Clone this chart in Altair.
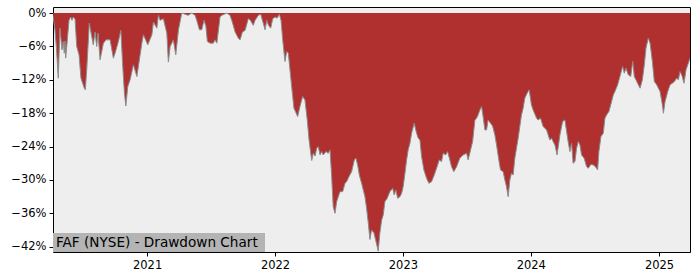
import altair as alt
import pandas as pd

# Decimal-year positions
years = [
    2020.266, 2020.281, 2020.293, 2020.307, 2020.320, 2020.336, 2020.346, 2020.354, 2020.359, 2020.365,
    2020.391, 2020.404, 2020.414, 2020.424, 2020.438, 2020.451, 2020.469, 2020.484, 2020.510, 2020.518,
    2020.529, 2020.549, 2020.580, 2020.594, 2020.607, 2020.617, 2020.633, 2020.659, 2020.680, 2020.711,
    2020.737, 2020.750, 2020.776, 2020.795, 2020.810, 2020.823, 2020.834, 2020.849, 2020.867, 2020.893,
    2020.920, 2020.959, 2020.971, 2021.005, 2021.037, 2021.049, 2021.076, 2021.088, 2021.102, 2021.127,
    2021.154, 2021.166, 2021.180, 2021.205, 2021.224, 2021.245, 2021.271, 2021.297, 2021.320, 2021.349,
    2021.375, 2021.388, 2021.409, 2021.427, 2021.445, 2021.459, 2021.471, 2021.492, 2021.518, 2021.531,
    2021.545, 2021.570, 2021.584, 2021.623, 2021.648, 2021.666, 2021.688, 2021.713, 2021.727, 2021.745,
    2021.766, 2021.791, 2021.805, 2021.830, 2021.844, 2021.870, 2021.888, 2021.909, 2021.922, 2021.935,
    2021.949, 2021.966, 2021.982, 2022.000, 2022.016, 2022.034, 2022.047, 2022.060, 2022.078, 2022.091,
    2022.104, 2022.117, 2022.130, 2022.148, 2022.177, 2022.195, 2022.216, 2022.234, 2022.252, 2022.266,
    2022.281, 2022.287, 2022.299, 2022.313, 2022.326, 2022.338, 2022.352, 2022.365, 2022.377, 2022.398,
    2022.416, 2022.430, 2022.443, 2022.455, 2022.469, 2022.482, 2022.508, 2022.529, 2022.547, 2022.560,
    2022.578, 2022.599, 2022.620, 2022.633, 2022.646, 2022.659, 2022.677, 2022.690, 2022.703, 2022.716,
    2022.729, 2022.742, 2022.755, 2022.773, 2022.789, 2022.807, 2022.820, 2022.834, 2022.846, 2022.859,
    2022.877, 2022.898, 2022.920, 2022.932, 2022.945, 2022.959, 2022.977, 2022.990, 2023.002, 2023.016,
    2023.029, 2023.041, 2023.055, 2023.068, 2023.088, 2023.107, 2023.120, 2023.133, 2023.146, 2023.164,
    2023.185, 2023.203, 2023.224, 2023.245, 2023.263, 2023.284, 2023.302, 2023.315, 2023.334, 2023.349,
    2023.367, 2023.380, 2023.398, 2023.420, 2023.445, 2023.471, 2023.498, 2023.510, 2023.529, 2023.545,
    2023.563, 2023.576, 2023.588, 2023.602, 2023.615, 2023.627, 2023.641, 2023.654, 2023.666, 2023.685,
    2023.701, 2023.719, 2023.732, 2023.752, 2023.763, 2023.784, 2023.797, 2023.810, 2023.823, 2023.836,
    2023.849, 2023.862, 2023.875, 2023.901, 2023.927, 2023.940, 2023.953, 2023.971, 2023.987, 2024.005,
    2024.018, 2024.045, 2024.057, 2024.076, 2024.096, 2024.123, 2024.148, 2024.162, 2024.174, 2024.188,
    2024.205, 2024.213, 2024.227, 2024.248, 2024.266, 2024.279, 2024.291, 2024.305, 2024.318, 2024.330,
    2024.344, 2024.357, 2024.370, 2024.383, 2024.396, 2024.416, 2024.435, 2024.448, 2024.469, 2024.487,
    2024.504, 2024.521, 2024.531, 2024.547, 2024.565, 2024.578, 2024.591, 2024.609, 2024.630, 2024.643,
    2024.656, 2024.677, 2024.695, 2024.716, 2024.729, 2024.742, 2024.760, 2024.779, 2024.795, 2024.807,
    2024.826, 2024.852, 2024.870, 2024.885, 2024.898, 2024.916, 2024.930, 2024.948, 2024.963, 2024.982,
    2025.008, 2025.026, 2025.034, 2025.047, 2025.068, 2025.086, 2025.104, 2025.120, 2025.138, 2025.151,
    2025.164, 2025.180, 2025.195, 2025.211, 2025.229, 2025.242,
]

# Drawdown in percent
drawdown = [
    -0.5, -3.0, -6.3, -11.7, -2.7, -6.6, -5.1, -7.2, -5.0, -8.1,
    -1.3, -0.7, -1.3, -0.7, -1.1, -6.0, -7.5, -11.7, -13.5, -13.8,
    -10.2, -1.8, -5.7, -3.4, -6.0, -3.6, -8.4, -5.4, -4.8, -4.8,
    -8.1, -7.2, -5.1, -3.1, -9.6, -14.4, -16.7, -13.2, -12.0, -9.3,
    -11.4, -5.4, -3.9, -5.7, -3.9, -1.6, -2.7, -0.4, -1.3, -1.0,
    -3.6, -8.8, -6.0, -4.8, -7.5, -3.0, 0.0, -0.2, -0.4, 0.0,
    -0.4, -1.3, -3.0, -3.0, -1.3, -2.3, -5.1, -5.4, -5.4, -4.8,
    -5.4, -0.7, -0.4, 0.0, -0.4, -1.6, -3.4, -4.5, -4.8, -3.4,
    -3.1, -1.0, -1.2, -2.2, -1.3, -0.4, -0.2, -1.9, -3.0, -1.3,
    -2.2, -2.7, -1.0, -0.7, -0.9, -0.2, -1.3, -4.8, -8.7, -6.9,
    -7.2, -10.2, -13.2, -17.1, -18.6, -16.8, -15.0, -15.6, -19.2, -22.8,
    -25.5, -26.5, -25.2, -25.7, -24.3, -24.0, -25.5, -24.9, -25.5, -24.9,
    -25.2, -24.6, -29.4, -34.8, -36.0, -33.9, -32.1, -32.1, -30.6, -30.3,
    -29.4, -28.5, -26.4, -26.1, -27.3, -29.1, -30.6, -31.8, -33.0, -35.1,
    -37.7, -40.7, -39.0, -39.5, -41.0, -42.8, -39.5, -37.2, -36.3, -33.9,
    -33.3, -32.1, -31.5, -32.7, -31.8, -33.3, -33.0, -32.4, -31.2, -28.8,
    -26.4, -24.6, -23.4, -21.6, -19.8, -21.6, -22.5, -22.8, -25.8, -28.2,
    -29.7, -30.6, -30.3, -29.1, -27.9, -26.4, -26.7, -25.2, -25.5, -24.9,
    -26.4, -27.6, -28.5, -27.6, -26.1, -25.5, -25.2, -26.4, -24.6, -23.1,
    -19.2, -18.9, -18.3, -17.4, -16.8, -18.6, -21.0, -21.0, -19.2, -19.8,
    -20.3, -21.9, -23.7, -26.7, -28.2, -28.5, -30.0, -31.2, -33.0, -30.0,
    -28.8, -29.1, -26.1, -22.5, -18.3, -17.1, -15.3, -14.4, -13.8, -16.5,
    -17.4, -18.9, -19.2, -18.9, -20.4, -21.0, -22.8, -22.5, -23.1, -23.7,
    -25.5, -24.2, -21.9, -19.5, -19.2, -21.3, -23.1, -24.9, -23.4, -27.0,
    -26.7, -24.3, -23.1, -23.7, -25.5, -26.1, -27.6, -27.9, -27.2, -27.3,
    -27.6, -28.2, -24.9, -22.2, -21.6, -18.9, -18.3, -17.7, -15.9, -14.7,
    -14.1, -12.9, -11.4, -9.6, -10.8, -9.9, -11.1, -11.4, -8.7, -11.4,
    -12.3, -13.5, -12.0, -9.3, -6.3, -4.5, -5.4, -8.7, -12.3, -12.9,
    -14.1, -16.5, -18.0, -15.9, -14.1, -12.9, -12.6, -12.3, -11.7, -12.0,
    -10.5, -11.3, -12.6, -10.2, -9.0, -8.1,
]

y_ticks = [-42, -36, -30, -24, -18, -12, -6, 0]
x_tick_years = [2021, 2022, 2023, 2024, 2025]
title_text = "FAF (NYSE) - Drawdown Chart"


def dec_to_date(v):
    yr = int(v)
    frac = v - yr
    start = pd.Timestamp(year=yr, month=1, day=1)
    end = pd.Timestamp(year=yr + 1, month=1, day=1)
    return start + (end - start) * frac


df = pd.DataFrame({
    "date": [dec_to_date(v).strftime("%Y-%m-%dT%H:%M:%S") for v in years],
    "dd": drawdown,
})

x_enc = alt.X(
    "date:T",
    scale=alt.Scale(domain=[df["date"].iloc[0], df["date"].iloc[-1]], nice=False),
    axis=alt.Axis(
        values=[alt.DateTime(year=y, month=1, date=1) for y in x_tick_years],
        format="%Y", title=None, grid=False, domain=False,
        tickColor="black", tickSize=4, labelPadding=3,
        labelOverlap=False, labelFlush=False,
        labelFontSize=11.5, labelColor="black", labelFont="DejaVu Sans",
    ),
)
y_enc = alt.Y(
    "dd:Q",
    scale=alt.Scale(domain=[-42.95, 1.1], nice=False, zero=False),
    axis=alt.Axis(
        values=y_ticks, title=None, grid=False, domain=False,
        labelExpr="replace(format(datum.value, 'd'), '-', '\u2212') + '%'",
        tickColor="black", tickSize=4, labelPadding=3,
        labelOverlap=False, labelFlush=False,
        labelFontSize=11.5, labelColor="black", labelFont="DejaVu Sans",
    ),
)

base = alt.Chart(df).encode(x=x_enc, y=y_enc)
area = base.mark_area(color="#b03030", opacity=1, clip=True).encode(y2=alt.datum(0))
edge = base.mark_line(color="#8c8c8c", strokeWidth=1, clip=True)

box = alt.Chart(pd.DataFrame({"t": [title_text]})).mark_rect(color="#b4b4b4").encode(
    x=alt.value(0), x2=alt.value(212), y=alt.value(226), y2=alt.value(245)
)
label = alt.Chart(pd.DataFrame({"t": [title_text]})).mark_text(
    align="left", baseline="alphabetic", fontSize=13.6, font="DejaVu Sans", color="black"
).encode(x=alt.value(3), y=alt.value(240), text="t:N")

chart = alt.layer(area, edge, box, label).properties(
    width=637, height=245,
    autosize=alt.AutoSizeParams(type="none"),
    padding={"left": 53, "top": 7, "right": 10, "bottom": 28},
    background="white",
).configure_view(
    fill="#eeeeee", stroke="black", strokeWidth=1
).configure_axis(labelOverlap=False)

chart.save("out.html", embed_options={"renderer": "svg", "actions": False})
